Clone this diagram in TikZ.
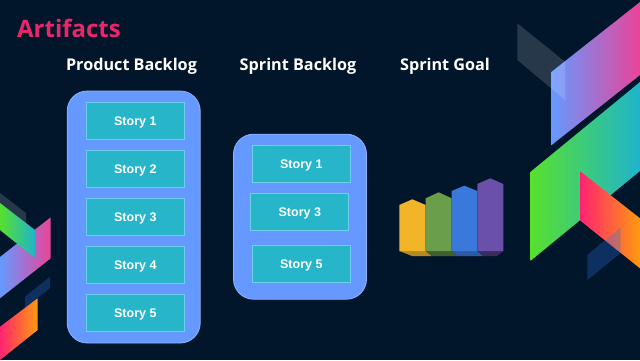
\documentclass[tikz,border=0pt]{standalone}
\usepackage{fontspec}
\setmainfont{Open Sans}
\newfontfamily\storyfont{Liberation Sans}
\definecolor{pagebg}{HTML}{02162B}
\definecolor{titlepink}{HTML}{E8276B}
\definecolor{panelblue}{HTML}{6699FF}
\definecolor{paneledge}{HTML}{8DB3FF}
\definecolor{storyteal}{HTML}{26B5C9}
\definecolor{storyedge}{HTML}{6FCFEA}
\definecolor{gblue}{HTML}{6699FF}
\definecolor{gpink}{HTML}{EA4498}
\definecolor{ggreen}{HTML}{58E02E}
\definecolor{gteal}{HTML}{1FB4CC}
\definecolor{gred}{HTML}{FF2470}
\definecolor{gorange}{HTML}{FF9A0E}
\definecolor{navyshard}{HTML}{2C6FE0}
\definecolor{baryellow}{HTML}{F2B52A}
\definecolor{bargreen}{HTML}{6A9E4A}
\definecolor{barblue}{HTML}{3A78DC}
\definecolor{barpurple}{HTML}{6A50A8}
\tikzset{
  paneltitle/.style={text=white,font=\fontsize{16.2}{18}\selectfont\bfseries,inner sep=0pt,anchor=center,text height=11.6pt,text depth=0pt},
  panelbox/.style={draw=paneledge,line width=0.8pt,fill=panelblue,rounded corners=20pt,inner sep=0pt},
  storybox/.style={draw=storyedge,line width=0.7pt,fill=storyteal,inner sep=0pt,text=white,
    minimum width=98pt,minimum height=37pt,text height=9pt,text depth=0pt,
    font=\storyfont\fontsize{12.5}{14}\selectfont\bfseries},
  blueshade/.style={left color=gblue,right color=gpink,draw=none},
  greenshade/.style={left color=ggreen,right color=gteal,draw=none},
  redshade/.style={left color=gred,right color=gorange,draw=none},
  greyshard/.style={fill=white,fill opacity=0.15,draw=none},
  navyshard/.style={fill=navyshard,fill opacity=0.3,draw=none}
}
\begin{document}
\begin{tikzpicture}[x=1pt,y=-1pt]
\useasboundingbox (0,0) rectangle (640,360);
\fill[pagebg] (0,0) rectangle (640,360);

% right-hand decoration
\shade[blueshade] (551.7,71.7) -- (640,2) -- (640,75) -- (551.7,145) -- cycle;
\fill[greyshard] (517.3,23.3) -- (565,61.7) -- (565,100) -- (517.3,60) -- cycle;
\shade[greenshade] (530.7,171.7) -- (640,82) -- (640,171) -- (530.7,260.7) -- cycle;
\shade[redshade] (580.7,171.7) -- (640,218.3) -- (640,268.3) -- (580.7,221) -- cycle;
\fill[navyshard] (587.3,255) -- (620.7,227.3) -- (620.7,253) -- (587.3,280) -- cycle;

% left-hand decoration
\shade[blueshade] (0,257) -- (50.7,217.3) -- (50.7,258.3) -- (0,298.3) -- cycle;
\fill[greyshard] (0,193) -- (26,213) -- (26,230) -- (0,210) -- cycle;
\shade[greenshade] (0,203) -- (35,230) -- (35,258) -- (0,230) -- cycle;
\shade[redshade] (0,326.7) -- (37.7,298.3) -- (37.7,330) -- (0,360) -- cycle;
\fill[navyshard] (25,296.7) -- (50,276.7) -- (50,288) -- (25,308) -- cycle;

% headings
\node[text=titlepink,font=\fontsize{24}{28}\selectfont\bfseries,inner sep=0pt,anchor=center,text height=18pt,text depth=0pt] (title) at (69,28) {Artifacts};
\node[paneltitle] (producthead) at (131.5,64.7) {Product Backlog};
\node[paneltitle] (sprinthead) at (298,64.7) {Sprint Backlog};
\node[paneltitle] (goalhead) at (445,64.7) {Sprint Goal};

% product backlog column
\node[panelbox,minimum width=133pt,minimum height=252pt] (productpanel) at (133.7,217) {};
\node[storybox] (p1) at (135.3,120.5) {Story 1};
\node[storybox] (p2) at (135.3,169) {Story 2};
\node[storybox] (p3) at (135.3,217) {Story 3};
\node[storybox] (p4) at (135.3,265) {Story 4};
\node[storybox] (p5) at (135.3,313) {Story 5};

% sprint backlog column
\node[panelbox,minimum width=133pt,minimum height=165pt] (sprintpanel) at (300,216.7) {};
\node[storybox] (s1) at (301.3,163.7) {Story 1};
\node[storybox] (s3) at (299.8,211.8) {Story 3};
\node[storybox] (s5) at (301.3,263.8) {Story 5};

% sprint goal bars, each with a darker foot
\fill[baryellow!75!black] (399.3,251) -- (412,256) -- (431.7,256) -- (425.7,251) -- cycle;
\fill[bargreen!60!black] (425.7,251) -- (431.7,256) -- (457.7,256) -- (451.7,251) -- cycle;
\fill[barblue!75!black] (451.7,251) -- (457.7,256) -- (483.3,256) -- (477.3,251) -- cycle;
\fill[barpurple!55!black] (477.3,251) -- (483.3,256) -- (497,256) -- (503.3,251) -- cycle;
\fill[baryellow] (399.3,251) -- (399.3,205) -- (412.3,199.3) -- (425.7,205) -- (425.7,251) -- cycle;
\fill[bargreen] (425.7,251) -- (425.7,198.3) -- (438.7,192.3) -- (451.7,198.3) -- (451.7,251) -- cycle;
\fill[barblue] (451.7,251) -- (451.7,191) -- (464.3,185.7) -- (477.3,191) -- (477.3,251) -- cycle;
\fill[barpurple] (477.3,251) -- (477.3,184) -- (490.3,178.3) -- (503.3,184) -- (503.3,251) -- cycle;
\end{tikzpicture}
\end{document}
